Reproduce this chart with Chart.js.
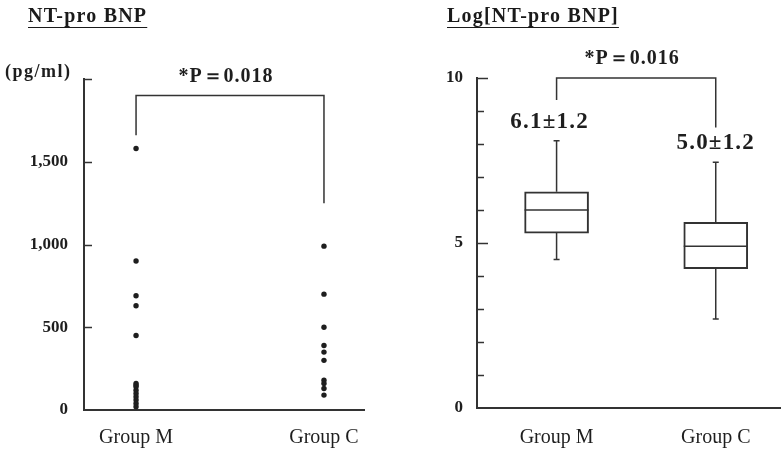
<!DOCTYPE html>
<html>
<head>
<meta charset="utf-8">
<script src="https://cdn.jsdelivr.net/npm/chart.js@4.4.1/dist/chart.umd.min.js"></script>
<style>
  html, body { margin: 0; padding: 0; background: #fff; }
  #wrap { position: relative; width: 781px; height: 450px; overflow: hidden; }
  canvas { position: absolute; top: 0; }
  .title {
    position: absolute; top: 4px;
    font: bold 20px "Liberation Serif", serif; color: #1a1a1a;
    letter-spacing: 1.2px;
    text-decoration: underline; text-underline-offset: 5px; text-decoration-thickness: 1px;
  }
</style>
</head>
<body>
<div id="wrap">
  <canvas id="leftChart" width="390" height="450" style="left:0"></canvas>
  <canvas id="rightChart" width="391" height="450" style="left:390px"></canvas>
  <div class="title" style="left:28px">NT-pro BNP</div>
  <div class="title" style="left:447px">Log[NT-pro BNP]</div>
</div>
<script>
// Data
const groups = ["Group M", "Group C"];
const bnpGroupM = [1580, 900, 690, 630, 450, 160, 150, 140, 120, 100, 80, 60, 40, 20];
const bnpGroupC = [990, 700, 500, 390, 350, 300, 180, 160, 130, 90];
const logMax = [8.1, 7.45];
const logQ3 = [6.55, 5.63];
const logMedian = [6.0, 4.9];
const logQ1 = [5.3, 4.22];
const logMin = [4.5, 2.7];
const logMeanSd = ["6.1±1.2", "5.0±1.2"];
const pLabels = ["*P＝0.018", "*P＝0.016"];
const bnpBracket = [1900, 1660, 1250];   // top, left end, right end
const logBracket = [10, 9.33, 8.5];

const INK = "#1e1e1e";
const LINE = "#333";
const serif = '"Liberation Serif", "Times New Roman", serif';

// ticks drawn inward from the y axis
const inwardTicks = {
  id: "inwardTicks",
  afterDraw(chart, args, opts) {
    const { ctx, chartArea, scales: { y } } = chart;
    ctx.save();
    ctx.strokeStyle = LINE;
    ctx.lineWidth = 1.5;
    y.ticks.forEach(t => {
      if (t.value === y.min) return;
      const py = Math.round(y.getPixelForValue(t.value)) + 0.5;
      const len = opts.major && t.value % opts.major === 0 ? opts.majorLen : opts.len;
      ctx.beginPath();
      ctx.moveTo(chartArea.left, py);
      ctx.lineTo(chartArea.left + len, py);
      ctx.stroke();
    });
    ctx.restore();
  }
};

// significance bracket with p value
const bracket = {
  id: "bracket",
  afterDraw(chart, args, opts) {
    const { ctx, scales: { x, y } } = chart;
    const x1 = x.getPixelForValue(1), x2 = x.getPixelForValue(2);
    const top = y.getPixelForValue(opts.levels[0]);
    ctx.save();
    ctx.strokeStyle = LINE;
    ctx.lineWidth = 1.5;
    ctx.beginPath();
    ctx.moveTo(x1, y.getPixelForValue(opts.levels[1]));
    ctx.lineTo(x1, top);
    ctx.lineTo(x2, top);
    ctx.lineTo(x2, y.getPixelForValue(opts.levels[2]));
    ctx.stroke();
    ctx.fillStyle = INK;
    ctx.font = "bold 20px " + serif;
    ctx.letterSpacing = "1px";
    ctx.textAlign = "center";
    ctx.textBaseline = "middle";
    ctx.fillText(opts.text, (x1 + x2) / 2 + opts.dx, top - 19);
    ctx.restore();
  }
};

// whiskers, medians and mean±SD labels for the box plot
const boxExtras = {
  id: "boxExtras",
  afterDatasetsDraw(chart) {
    const { ctx, scales: { x, y } } = chart;
    ctx.save();
    ctx.strokeStyle = LINE;
    groups.forEach((g, i) => {
      const cx = x.getPixelForValue(i + 1);
      const half = 32;
      ctx.lineWidth = 1.5;
      ctx.beginPath();
      ctx.moveTo(cx, y.getPixelForValue(logQ3[i]));
      ctx.lineTo(cx, y.getPixelForValue(logMax[i]));
      ctx.moveTo(cx - 3, y.getPixelForValue(logMax[i]));
      ctx.lineTo(cx + 3, y.getPixelForValue(logMax[i]));
      ctx.moveTo(cx, y.getPixelForValue(logQ1[i]));
      ctx.lineTo(cx, y.getPixelForValue(logMin[i]));
      ctx.moveTo(cx - 3, y.getPixelForValue(logMin[i]));
      ctx.lineTo(cx + 3, y.getPixelForValue(logMin[i]));
      ctx.moveTo(cx - half, y.getPixelForValue(logMedian[i]));
      ctx.lineTo(cx + half, y.getPixelForValue(logMedian[i]));
      ctx.stroke();
      ctx.fillStyle = INK;
      ctx.font = "bold 23px " + serif;
      ctx.letterSpacing = "1.2px";
      ctx.textAlign = "center";
      ctx.textBaseline = "middle";
      ctx.fillText(logMeanSd[i], cx + (i === 0 ? -7 : 0), y.getPixelForValue(logMax[i]) - 19);
    });
    ctx.restore();
  }
};

function groupAxis(min, max, pad, height) {
  return {
    type: "linear", min, max, offset: false,
    afterBuildTicks: s => { s.ticks = [{ value: 1 }, { value: 2 }]; },
    afterFit: s => { s.height = height; },
    grid: { display: true, drawOnChartArea: false, drawTicks: false, offset: false },
    border: { display: true, color: LINE, width: 2 },
    ticks: {
      padding: pad, color: INK, maxRotation: 0, autoSkip: false,
      font: { family: serif, size: 20 },
      callback: v => groups[v - 1]
    }
  };
}

// left: NT-pro BNP dot plot
new Chart(document.getElementById("leftChart"), {
  type: "scatter",
  data: {
    datasets: [
      { data: bnpGroupM.map(v => ({ x: 1, y: v })), clip: false },
      { data: bnpGroupC.map(v => ({ x: 2, y: v })), clip: false }
    ]
  },
  options: {
    responsive: false, animation: false,
    layout: { padding: { left: 0, right: 26, top: 79, bottom: 0 } },
    elements: { point: { radius: 2.7, backgroundColor: INK, borderWidth: 0 } },
    plugins: {
      legend: { display: false }, tooltip: { enabled: false },
      inwardTicks: { len: 8 },
      bracket: { levels: bnpBracket, text: pLabels[0], dx: -4 }
    },
    scales: {
      x: groupAxis(0.723, 2.213, 16, 40),
      y: {
        min: 0, max: 2000,
        afterFit: s => { s.width = 84; },
        grid: { display: true, drawOnChartArea: false, drawTicks: false },
        border: { display: true, color: LINE, width: 2 },
        ticks: {
          stepSize: 500, padding: 16, color: INK,
          font: { family: serif, size: 17, weight: "bold" },
          callback: v => v === 2000 ? "" : v.toLocaleString("en-US")
        }
      }
    }
  },
  plugins: [inwardTicks, bracket, {
    id: "unitLabel",
    afterDraw(chart) {
      const ctx = chart.ctx;
      ctx.save();
      ctx.fillStyle = INK;
      ctx.font = "bold 18px " + serif;
      ctx.letterSpacing = "1.5px";
      ctx.textBaseline = "middle";
      ctx.fillText("(pg/ml)", 5, 72);
      ctx.restore();
    }
  }]
});

// right: log NT-pro BNP box plot
new Chart(document.getElementById("rightChart"), {
  type: "bar",
  data: {
    datasets: [{
      data: groups.map((g, i) => ({ x: i + 1, y: [logQ1[i], logQ3[i]] })),
      backgroundColor: "#fff",
      borderColor: LINE,
      borderWidth: 2,
      borderSkipped: false,
      barThickness: 64
    }]
  },
  options: {
    responsive: false, animation: false,
    layout: { padding: { left: 0, right: 0, top: 78, bottom: 0 } },
    plugins: {
      legend: { display: false }, tooltip: { enabled: false },
      inwardTicks: { len: 7, major: 5, majorLen: 11 },
      bracket: { levels: logBracket, text: pLabels[1], dx: -4 }
    },
    scales: {
      x: groupAxis(0.5, 2.41, 18, 42),
      y: {
        min: 0, max: 10,
        afterFit: s => { s.width = 87; },
        grid: { display: true, drawOnChartArea: false, drawTicks: false },
        border: { display: true, color: LINE, width: 2 },
        ticks: {
          stepSize: 1, padding: 14, color: INK, autoSkip: false,
          font: { family: serif, size: 17, weight: "bold" },
          callback: v => v % 5 === 0 ? v : ""
        }
      }
    }
  },
  plugins: [inwardTicks, bracket, boxExtras]
});
</script>
</body>
</html>
